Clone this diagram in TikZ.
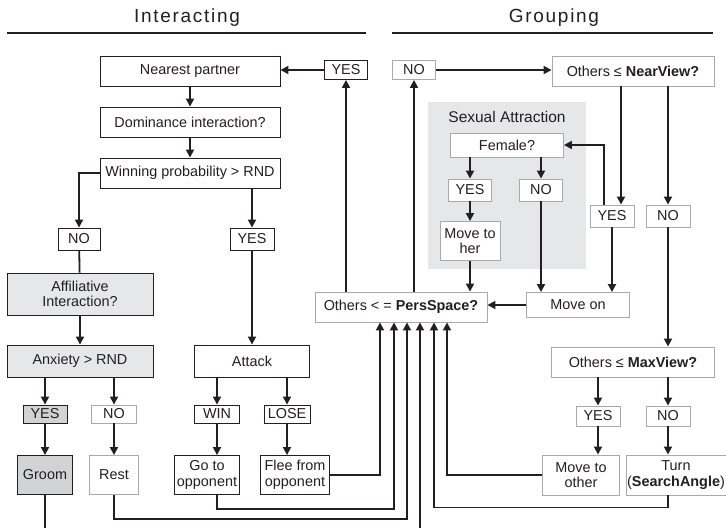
\documentclass[tikz,border=0pt]{standalone}
\usepackage{fontspec}
\setmainfont{Liberation Sans}
\usepackage{tikz}
\usetikzlibrary{arrows.meta}
\definecolor{ink}{HTML}{231F20}
\definecolor{rim}{HTML}{A7A9AC}
\definecolor{pale}{HTML}{E6E7E8}
\definecolor{dpale}{HTML}{D1D3D4}
\tikzset{>={Triangle[width=8pt,length=8pt]},
	box/.style={draw=ink,line width=0.9pt,fill=white,inner sep=0pt,align=center,text=ink,font=\fontsize{14.4}{15.5}\selectfont},
	gbox/.style={box,draw=rim},
	sz/.style 2 args={minimum width=#1pt,minimum height=#2pt},
	head/.style={text=ink,font=\fontsize{19}{21}\selectfont\addfontfeature{LetterSpace=9}},
	link/.style={draw=ink,line width=1.8pt},
	arr/.style={link,->}}

\begin{document}
\begin{tikzpicture}[x=1pt,y=-1pt]
	\useasboundingbox (0,0) rectangle (726,528);
	\node (hInt) at (187,18) [head] {Interacting};
	\node (hGrp) at (554,18) [head] {Grouping};
	\draw [ink,line width=1.2pt] (7,33) -- (366,33);
	\draw [ink,line width=1.2pt] (392,33) -- (713,33);
	\fill [pale] (428,102) rectangle (586,269);
	\node (sexual) at (507,117) [text=ink,font=\fontsize{15.5}{17}\selectfont] {Sexual Attraction};
	\node (nearest) at (190,71) [box,sz={180}{30}] {Nearest partner};
	\node (yesA) at (346,70) [box,sz={43}{19}] {YES};
	\node (domin) at (190,122) [box,sz={180}{30}] {Dominance interaction?};
	\node (winning) at (190,173) [box,sz={180}{30}] {Winning probability > RND};
	\node (noA) at (79,239) [box,sz={42}{22}] {NO};
	\node (yesB) at (252,239) [box,sz={44}{22}] {YES};
	\node (affil) at (80,294) [box,fill=pale,sz={146}{42}] {Affiliative\\Interaction?};
	\node (anx) at (80,361) [box,fill=pale,sz={146}{32}] {Anxiety > RND};
	\node (attack) at (252,361) [box,sz={115}{32}] {Attack};
	\node (yesC) at (45,414) [box,fill=dpale,sz={44}{18}] {YES};
	\node (noC) at (114,414) [gbox,sz={45}{18}] {NO};
	\node (win) at (217,414) [box,sz={45}{18}] {WIN};
	\node (lose) at (287,414) [box,sz={46}{18}] {LOSE};
	\node (groom) at (45,475) [box,fill=dpale,sz={55}{39}] {Groom};
	\node (rest) at (114,475) [gbox,sz={49}{39}] {Rest};
	\node (goto) at (207,475) [box,sz={65}{39}] {Go to\\opponent};
	\node (flee) at (295,475) [box,sz={69}{39}] {Flee from\\opponent};
	\node (pers) at (401,307) [gbox,sz={172}{30}] {Others < = \textbf{PersSpace?}};
	\node (noD) at (414,70) [gbox,sz={43}{19}] {NO};
	\node (near) at (633,71) [gbox,sz={162}{30}] {Others ≤ \textbf{NearView?}};
	\node (female) at (507,145) [gbox,sz={113}{24}] {Female?};
	\node (yesE) at (470,190) [gbox,sz={43}{22}] {YES};
	\node (noE) at (541,190) [gbox,sz={43}{22}] {NO};
	\node (moveher) at (470,241) [gbox,sz={60}{39}] {Move to\\her};
	\node (yesF) at (612,216) [gbox,sz={44}{22}] {YES};
	\node (noF) at (668,216) [gbox,sz={44}{22}] {NO};
	\node (moveon) at (578,305) [gbox,sz={103}{25}] {Move on};
	\node (maxv) at (633,362) [gbox,sz={163}{30}] {Others ≤ \textbf{MaxView?}};
	\node (yesG) at (598,416) [gbox,sz={44}{20}] {YES};
	\node (noG) at (668,416) [gbox,sz={44}{20}] {NO};
	\node (moveoth) at (581,475) [gbox,sz={77}{40}] {Move to\\other};
	\node (turn) at (676,475) [gbox,sz={100}{40}] {Turn\\(\textbf{SearchAngle})};
	\coordinate (gEnd) at (45,528);
	\coordinate (bEnd) at (420,528);
	\draw [arr] (yesA) -- (yesA -| nearest.east);
	\draw [arr] (pers.north -| yesA) -- (yesA);
	\draw [arr] (pers.north -| noD) -- (noD);
	\draw [arr] (noD) -- (noD -| near.west);
	\draw [arr] (nearest) -- (domin);
	\draw [arr] (domin) -- (winning);
	\draw [arr] (winning.west) -| (noA);
	\draw [arr] (winning.south -| yesB) -- (yesB);
	\draw [link] (noA) -- (affil);
	\draw [arr] (affil) -- (anx);
	\draw [arr] (yesB) -- (attack);
	\draw [arr] (anx.south -| yesC) -- (yesC);
	\draw [arr] (anx.south -| noC) -- (noC);
	\draw [arr] (yesC) -- (groom);
	\draw [arr] (noC) -- (rest);
	\draw [arr] (attack.south -| win) -- (win);
	\draw [arr] (attack.south -| lose) -- (lose);
	\draw [arr] (win) -- (win |- goto.north);
	\draw [arr] (lose) -- (lose |- flee.north);
	\draw [link] (groom) -- (gEnd);
	\draw [arr] (flee.east) -| ([xshift=-21pt]pers.south);
	\draw [arr] (goto.south -| win) -- ++(0,14) -| ([xshift=-7pt]pers.south);
	\draw [arr] (rest.south) -- ++(0,24) -| ([xshift=6pt]pers.south);
	\draw [arr] (bEnd) -- (bEnd |- pers.south);
	\draw [arr] (turn.south -| noG) -- ++(0,12) -| ([xshift=33pt]pers.south);
	\draw [arr] (moveoth.west) -| ([xshift=46pt]pers.south);
	\draw [arr] (female.south -| yesE) -- (yesE);
	\draw [arr] (female.south -| noE) -- (noE);
	\draw [arr] (yesE) -- (moveher);
	\draw [arr] (moveher) -- (moveher |- pers.north);
	\draw [arr] (noE) -- (noE |- moveon.north);
	\draw [arr] (moveon.west) -- (moveon.west -| pers.east);
	\draw [arr] ([xshift=-12pt]near.south) -- ([xshift=9pt]yesF.north);
	\draw [arr] ([xshift=-8pt]yesF.north) |- (female.east);
	\draw [arr] (near.south -| noF) -- (noF);
	\draw [arr] (yesF) -- (yesF |- moveon.north);
	\draw [arr] (noF) -- (noF |- maxv.north);
	\draw [arr] (maxv.south -| yesG) -- (yesG);
	\draw [arr] (maxv.south -| noG) -- (noG);
	\draw [arr] (yesG) -- (yesG |- moveoth.north);
	\draw [arr] (noG) -- (noG |- turn.north);
\end{tikzpicture}
\end{document}
